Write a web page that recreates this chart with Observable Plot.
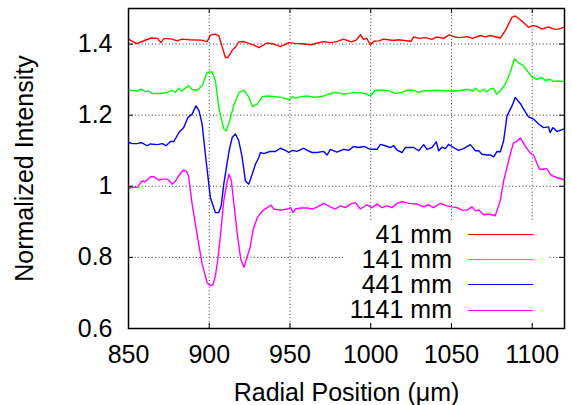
<!DOCTYPE html>
<html>
<head>
<meta charset="utf-8">
<script src="https://cdn.jsdelivr.net/npm/d3@7"></script>
<script src="https://cdn.jsdelivr.net/npm/@observablehq/plot@0.6"></script>
<style>
  html, body { margin: 0; padding: 0; background: #fff; }
  #wrap { position: relative; width: 572px; height: 405px; font-family: "Liberation Sans", Arial, sans-serif; }
  #legend { position: absolute; left: 345px; top: 221px; width: 203px; height: 102px; background: #fff; }
  .row { display: flex; align-items: center; height: 25.3px; line-height: 25.3px; font-size: 25px; color: #000; }
  .lab { width: 107px; text-align: right; white-space: nowrap; }
  .sw { margin-left: 16px; width: 65px; height: 0; border-top-style: solid; border-top-width: 1.5px; }
</style>
</head>
<body>
<div id="wrap"></div>
<script>
const xTicks = [850, 900, 950, 1000, 1050, 1100];
const yTicks = [0.6, 0.8, 1.0, 1.2, 1.4];
const seriesNames = ["41 mm", "141 mm", "441 mm", "1141 mm"];
const seriesColors = ["#ff0000", "#00ff00", "#0000ff", "#ff00ff"];

const s41 = [[850,1.414],[855,1.401],[860,1.410],[864,1.417],[868,1.416],[870,1.404],[872,1.416],[877,1.414],[880,1.409],[883,1.414],[888,1.412],[895,1.411],[898.7,1.407],[900.7,1.425],[903.8,1.428],[906,1.423],[910,1.362],[911.5,1.362],[914,1.381],[916,1.390],[918.3,1.406],[921.4,1.407],[927.6,1.397],[930.8,1.390],[935.8,1.403],[940,1.400],[944.2,1.393],[949.2,1.404],[953,1.402],[957.5,1.401],[963,1.398],[967,1.403],[971,1.407],[975,1.404],[979,1.407],[983,1.414],[988,1.406],[991,1.411],[993.7,1.426],[995.5,1.413],[997.5,1.416],[999.8,1.398],[1002,1.408],[1005,1.409],[1008,1.414],[1011,1.412],[1014,1.410],[1017,1.412],[1021,1.410],[1025,1.408],[1026.6,1.420],[1030,1.416],[1034,1.418],[1038,1.413],[1041,1.420],[1045,1.416],[1048.6,1.426],[1052,1.420],[1055,1.418],[1060,1.421],[1063,1.416],[1068,1.424],[1071,1.420],[1074,1.424],[1080.2,1.417],[1083.3,1.437],[1087.4,1.475],[1089.5,1.479],[1093.6,1.465],[1097.7,1.447],[1100.5,1.452],[1103,1.450],[1106,1.442],[1110,1.448],[1113.6,1.442],[1116.5,1.442],[1119.4,1.447]];

const s141 = [[850.2,1.270],[855.4,1.268],[857.9,1.273],[860.4,1.266],[862.5,1.268],[864.6,1.261],[870,1.261],[874,1.264],[877,1.270],[879,1.264],[881.1,1.276],[883,1.268],[887.3,1.283],[889.4,1.272],[892.5,1.270],[895.6,1.283],[898.6,1.320],[901.7,1.322],[903.8,1.297],[905.9,1.222],[909,1.161],[910.5,1.156],[912.3,1.179],[915.4,1.231],[918.4,1.264],[921.5,1.270],[924.6,1.250],[926.7,1.224],[929.8,1.231],[932.9,1.252],[936,1.254],[941,1.252],[945,1.250],[949.4,1.243],[951.4,1.252],[953.5,1.248],[956.6,1.252],[960.8,1.254],[964.9,1.250],[971,1.254],[975,1.261],[979,1.264],[983.2,1.259],[987,1.262],[992.5,1.264],[996.5,1.261],[999.8,1.254],[1002.9,1.270],[1008,1.270],[1011,1.269],[1015,1.261],[1019.4,1.264],[1022.5,1.270],[1026.6,1.270],[1029.7,1.264],[1032.8,1.268],[1041,1.270],[1049,1.268],[1054,1.268],[1059.5,1.273],[1063.6,1.268],[1064.6,1.276],[1067.7,1.266],[1069.8,1.273],[1071.8,1.266],[1073.9,1.273],[1076,1.276],[1078,1.259],[1080.2,1.268],[1083.3,1.287],[1086.4,1.320],[1088.9,1.358],[1091.5,1.348],[1094.6,1.339],[1097.7,1.320],[1099.8,1.308],[1102.9,1.301],[1106,1.306],[1108,1.298],[1111.1,1.301],[1113.2,1.295],[1116,1.296],[1119.4,1.295]];

const s441 = [[850.2,1.123],[852.5,1.120],[855.4,1.120],[858,1.123],[861.6,1.114],[863.6,1.119],[867.8,1.117],[871,1.120],[873.2,1.114],[876,1.126],[878.1,1.126],[881.2,1.151],[884.2,1.165],[886.7,1.193],[889.4,1.203],[891.8,1.226],[893.7,1.212],[895.6,1.175],[897.6,1.090],[900.7,0.968],[903.8,0.926],[905.9,0.926],[907.4,0.945],[909,1.006],[912.3,1.100],[914.2,1.137],[916.2,1.147],[918.3,1.128],[920.4,1.081],[922.4,1.015],[924.5,1.006],[926.6,1.034],[928.6,1.062],[930.7,1.081],[931.7,1.095],[933.8,1.092],[935.8,1.095],[937.9,1.098],[941,1.098],[944.1,1.107],[947.2,1.101],[949.3,1.095],[951.4,1.101],[954.4,1.098],[958.6,1.107],[960.6,1.101],[963.7,1.095],[966.8,1.095],[970.9,1.098],[973,1.088],[975,1.104],[979.1,1.096],[983.2,1.104],[986.3,1.101],[989.4,1.112],[992.5,1.109],[995.6,1.112],[999.8,1.104],[1003.9,1.104],[1006,1.118],[1009,1.114],[1012.1,1.109],[1014.2,1.114],[1016.3,1.102],[1019.4,1.095],[1021.4,1.109],[1026.6,1.109],[1029.7,1.100],[1032.8,1.117],[1034.8,1.104],[1037.9,1.109],[1040.6,1.125],[1042.1,1.100],[1044.1,1.110],[1046.2,1.106],[1048.2,1.118],[1051.4,1.109],[1054.4,1.101],[1057.5,1.106],[1061.7,1.117],[1064.8,1.100],[1066.9,1.100],[1068.9,1.090],[1072,1.088],[1074.1,1.088],[1076.2,1.083],[1078.2,1.098],[1080.3,1.097],[1082.3,1.128],[1084.4,1.198],[1087.5,1.226],[1089.5,1.250],[1092.6,1.233],[1094.7,1.217],[1097.7,1.195],[1100.8,1.189],[1104,1.175],[1107,1.165],[1110.1,1.167],[1111.1,1.151],[1112.8,1.165],[1115.3,1.154],[1119.4,1.161]];

const s1141 = [[850.2,0.995],[852.5,0.997],[855.4,0.997],[858.4,1.015],[860.4,1.013],[863.6,1.027],[865.7,1.027],[868.8,1.017],[870.9,1.020],[874,1.020],[875,1.017],[877,1.006],[879.1,1.015],[881.1,1.029],[883.8,1.045],[885.9,1.042],[887.3,1.027],[889.4,0.950],[892.5,0.865],[895.6,0.781],[898.7,0.729],[900.7,0.720],[902.3,0.723],[903.8,0.748],[905.2,0.790],[907,0.865],[909,0.959],[911.2,1.015],[912.3,1.034],[913.7,1.015],[915.3,0.950],[917.4,0.865],[919.5,0.795],[921.5,0.772],[923.6,0.804],[925.3,0.828],[927.3,0.880],[929.8,0.912],[932.9,0.931],[936,0.940],[938.3,0.947],[940,0.936],[944.2,0.933],[948.3,0.936],[950.4,0.940],[951.9,0.926],[953.4,0.936],[956.6,0.939],[960.8,0.939],[963.9,0.936],[967,0.942],[970.8,0.952],[973.9,0.945],[975,0.942],[978.1,0.936],[981.2,0.945],[984.3,0.940],[987.4,0.950],[990.5,0.954],[993.6,0.936],[997.7,0.948],[1000.8,0.940],[1003.9,0.950],[1007,0.940],[1010.1,0.945],[1013.2,0.940],[1016.3,0.952],[1019.4,0.957],[1023.5,0.952],[1028.7,0.950],[1032.8,0.942],[1035.9,0.948],[1039,0.940],[1043.1,0.952],[1047.2,0.945],[1050.3,0.942],[1053.4,0.940],[1056.5,0.933],[1059.6,0.933],[1062.7,0.942],[1064.8,0.931],[1066.9,0.933],[1069.9,0.920],[1073,0.922],[1077.1,0.917],[1080.2,0.959],[1082.3,1.015],[1084.4,1.053],[1086.4,1.090],[1088.4,1.122],[1090.5,1.126],[1092.6,1.136],[1095.7,1.113],[1098.8,1.093],[1100.8,1.088],[1102.9,1.065],[1104.5,1.048],[1107,1.048],[1109,1.050],[1111.5,1.032],[1115.3,1.024],[1119.4,1.019]];

const allSeries = [s41, s141, s441, s1141];

const W = 572, H = 405, mL = 128, mR = 8, mT = 8, mB = 77;
const innerW = W - mL - mR, innerH = H - mT - mB;
const tickLen = 5;
const gridStyle = {stroke: "#333", strokeOpacity: 1, strokeWidth: 1, strokeDasharray: "1,2.4"};

const chart = Plot.plot({
  width: W, height: H,
  marginLeft: mL, marginRight: mR, marginTop: mT, marginBottom: mB,
  style: {fontFamily: "'Liberation Sans', Arial, sans-serif", fontSize: "25px", background: "#fff", color: "#000", overflow: "visible"},
  x: {domain: [850, 1120]},
  y: {domain: [0.6, 1.5]},
  marks: [
    Plot.gridX(xTicks.slice(1), gridStyle),
    Plot.gridY(yTicks.slice(1), gridStyle),
    ...allSeries.map((s, i) => Plot.line(s, {x: d => d[0], y: d => d[1], stroke: seriesColors[i], strokeWidth: 1.4})),
    Plot.tickX(xTicks, {x: d => d, insetTop: innerH - tickLen, stroke: "#000"}),
    Plot.tickX(xTicks, {x: d => d, insetBottom: innerH - tickLen, stroke: "#000"}),
    Plot.tickY(yTicks, {y: d => d, insetRight: innerW - tickLen, stroke: "#000"}),
    Plot.tickY(yTicks, {y: d => d, insetLeft: innerW - tickLen, stroke: "#000"}),
    Plot.axisX(xTicks, {tickSize: 0, tickPadding: 17, tickFormat: d => String(d), label: "Radial Position (μm)", labelAnchor: "center", labelArrow: "none", labelOffset: 72}),
    Plot.axisY(yTicks, {tickSize: 0, tickPadding: 16, tickFormat: d => String(d), label: "Normalized Intensity", labelAnchor: "center", labelArrow: "none", labelOffset: 113}),
    Plot.frame({stroke: "#000", strokeWidth: 1.5})
  ]
});

const wrap = document.getElementById("wrap");
wrap.appendChild(chart);

const legend = document.createElement("div");
legend.id = "legend";
seriesNames.forEach((name, i) => {
  const row = document.createElement("div");
  row.className = "row";
  const lab = document.createElement("span");
  lab.className = "lab";
  lab.textContent = name;
  const sw = document.createElement("span");
  sw.className = "sw";
  sw.style.borderTopColor = seriesColors[i];
  row.appendChild(lab);
  row.appendChild(sw);
  legend.appendChild(row);
});
legend.style.paddingTop = "0.5px";
legend.style.boxSizing = "border-box";
wrap.appendChild(legend);
</script>
</body>
</html>
